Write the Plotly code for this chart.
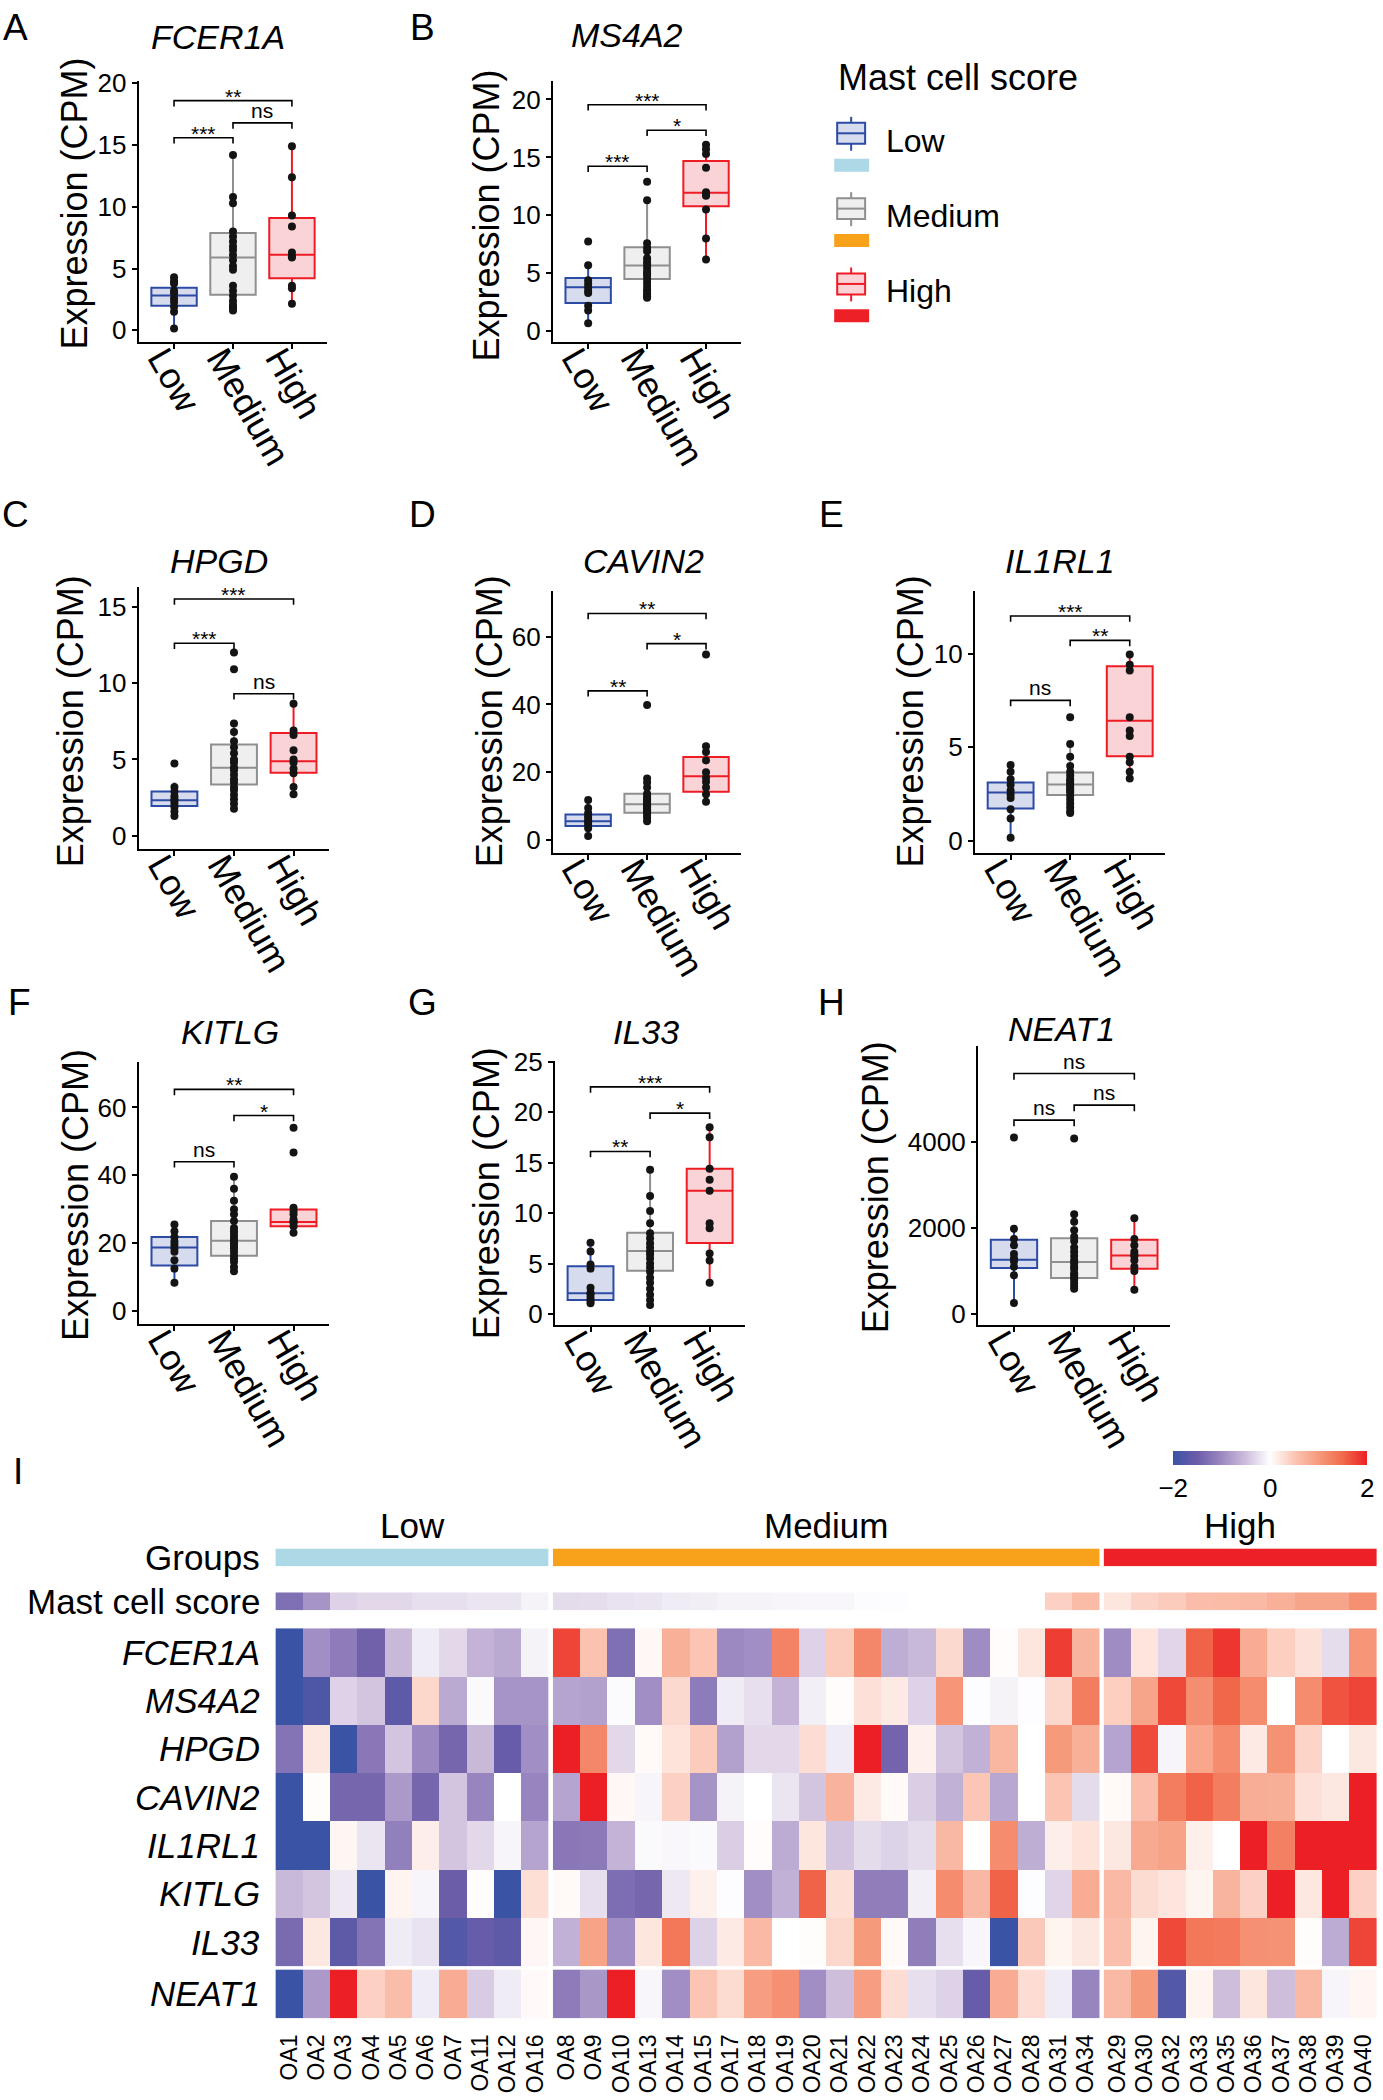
import plotly.graph_objects as go

W, H = 1383, 2100
FONT = "Liberation Sans, Arial, Helvetica, sans-serif"

# ---------------- data: box panels ----------------
GROUPS = ["Low", "Medium", "High"]

Q1 = {
    "FCER1A": [2.0, 2.88, 4.22], "MS4A2": [2.45, 4.5, 10.78], "HPGD": [1.96, 3.37, 4.13],
    "CAVIN2": [4.16, 8.1, 14.3], "IL1RL1": [1.73, 2.45, 4.52], "KITLG": [13.4, 16.3, 25.0],
    "IL33": [1.4, 4.28, 7.03], "NEAT1": [1070, 837, 1054]}
MEDIAN = {
    "FCER1A": [2.82, 5.9, 6.13], "MS4A2": [3.8, 5.68, 11.96], "HPGD": [2.33, 4.46, 4.89],
    "CAVIN2": [5.6, 10.6, 18.8], "IL1RL1": [2.59, 3.02, 6.41], "KITLG": [18.7, 20.7, 26.2],
    "IL33": [2.06, 6.24, 12.2], "NEAT1": [1264, 1209, 1364]}
Q3 = {
    "FCER1A": [3.44, 7.88, 9.09], "MS4A2": [4.6, 7.26, 14.7], "HPGD": [2.9, 5.98, 6.74],
    "CAVIN2": [7.6, 13.7, 24.5], "IL1RL1": [3.125, 3.66, 9.32], "KITLG": [21.8, 26.5, 29.9],
    "IL33": [4.74, 8.04, 14.4], "NEAT1": [1729, 1767, 1729]}
LOWER = {
    "FCER1A": [0.13, 1.6, 2.15], "MS4A2": [0.7, 2.94, 6.2], "HPGD": [1.3, 1.78, 2.72],
    "CAVIN2": [1.2, 5.6, 11.3], "IL1RL1": [0.18, 1.5, 3.34], "KITLG": [8.3, 11.7, 23.1],
    "IL33": [1.08, 0.9, 3.1], "NEAT1": [256, 590, 566]}
UPPER = {
    "FCER1A": [4.3, 14.2, 14.9], "MS4A2": [5.7, 11.3, 16.1], "HPGD": [3.5, 7.35, 8.65],
    "CAVIN2": [11.8, 18.2, 27.7], "IL1RL1": [4.05, 5.18, 9.95], "KITLG": [25.5, 39.6, 30.4],
    "IL33": [7.06, 14.3, 18.5], "NEAT1": [1985, 2326, 2233]}

PTS_LOW = {
    "FCER1A": [0.15, 1.5, 1.9, 2.3, 2.6, 3.0, 3.2, 3.8, 4.0, 4.3],
    "MS4A2": [7.75, 5.7, 4.4, 4.1, 3.8, 3.5, 3.3, 2.2, 1.8, 0.7],
    "HPGD": [4.74, 3.2, 2.9, 2.6, 2.4, 2.3, 2.1, 1.9, 1.6, 1.3],
    "CAVIN2": [11.8, 9.5, 8.0, 7.2, 6.5, 5.8, 5.2, 4.5, 3.5, 1.2],
    "IL1RL1": [4.05, 3.7, 3.3, 3.0, 2.7, 2.5, 2.3, 1.7, 1.2, 0.18],
    "KITLG": [25.5, 23.5, 21.8, 20.5, 19.5, 18.5, 17.5, 15.0, 12.5, 8.3],
    "IL33": [7.06, 6.2, 4.9, 4.5, 2.6, 2.1, 1.9, 1.6, 1.3, 1.08],
    "NEAT1": [4116, 1985, 1750, 1600, 1400, 1300, 1230, 1100, 900, 256]}
PTS_MED = {
    "FCER1A": [14.2, 10.8, 10.3, 8.0, 7.6, 7.2, 6.8, 6.5, 6.1, 5.7, 5.2, 4.9, 3.6, 3.2, 2.8, 2.4, 2.1, 1.9, 1.8, 1.6],
    "MS4A2": [12.9, 11.3, 7.6, 7.2, 6.9, 6.3, 6.0, 5.8, 5.5, 5.2, 5.0, 4.8, 4.5, 4.2, 3.9, 3.6, 3.4, 3.2, 3.0, 2.9],
    "HPGD": [12.0, 10.9, 7.35, 6.8, 6.2, 5.8, 5.4, 5.0, 4.8, 4.5, 4.3, 4.0, 3.7, 3.5, 3.2, 3.0, 2.7, 2.4, 2.1, 1.78],
    "CAVIN2": [39.8, 18.2, 17.0, 15.5, 13.7, 13.0, 12.3, 11.8, 11.3, 10.8, 10.4, 10.0, 9.6, 9.2, 8.8, 8.3, 7.9, 7.2, 6.5, 5.6],
    "IL1RL1": [6.6, 5.18, 4.5, 4.0, 3.7, 3.5, 3.3, 3.2, 3.1, 3.0, 2.9, 2.8, 2.7, 2.6, 2.4, 2.2, 2.0, 1.8, 1.6, 1.5],
    "KITLG": [39.6, 36.0, 32.5, 30.0, 28.5, 26.5, 24.5, 23.5, 22.5, 21.5, 20.8, 20.0, 19.2, 18.5, 17.5, 16.3, 15.5, 14.5, 13.0, 11.7],
    "IL33": [14.3, 11.7, 10.2, 9.0, 8.0, 7.5, 7.0, 6.6, 6.2, 5.9, 5.5, 5.0, 4.6, 4.2, 3.6, 3.1, 2.5, 1.9, 1.4, 0.9],
    "NEAT1": [4093, 2326, 2150, 1950, 1800, 1700, 1550, 1450, 1350, 1250, 1180, 1100, 1050, 950, 900, 850, 800, 720, 650, 590]}
PTS_HIGH = {
    "FCER1A": [14.9, 12.4, 9.3, 8.4, 6.3, 6.0, 5.9, 3.6, 3.4, 2.15],
    "MS4A2": [16.1, 15.7, 15.3, 14.1, 12.0, 11.8, 11.7, 10.5, 8.0, 6.2],
    "HPGD": [8.65, 6.9, 6.6, 5.6, 5.0, 4.8, 4.4, 4.1, 3.2, 2.72],
    "CAVIN2": [54.7, 27.7, 26.0, 23.5, 20.0, 18.5, 17.2, 15.5, 13.5, 11.3],
    "IL1RL1": [9.95, 9.4, 9.1, 6.6, 5.9, 5.6, 4.5, 4.2, 3.7, 3.34],
    "KITLG": [54.0, 46.7, 30.4, 29.5, 28.5, 27.0, 26.3, 26.0, 25.0, 23.1],
    "IL33": [18.5, 17.5, 14.4, 13.3, 12.2, 9.0, 8.5, 6.0, 5.3, 3.1],
    "NEAT1": [2233, 1750, 1600, 1450, 1380, 1350, 1250, 1100, 1000, 566]}

# significance brackets: pairs (Low-Medium, Medium-High, Low-High)
SIG_PAIRS = [(0, 1), (1, 2), (0, 2)]
SIG_Y = {
    "FCER1A": [15.6, 16.8, 18.6], "MS4A2": [14.24, 17.35, 19.54], "HPGD": [12.6, 9.3, 15.5],
    "CAVIN2": [44.0, 57.9, 66.8], "IL1RL1": [7.5, 10.7, 12.0], "KITLG": [44.0, 57.6, 65.3],
    "IL33": [16.1, 19.9, 22.5], "NEAT1": [4519, 4868, 5605]}
SIG_TEXT = {
    "FCER1A": ["***", "ns", "**"], "MS4A2": ["***", "*", "***"], "HPGD": ["***", "ns", "***"],
    "CAVIN2": ["**", "*", "**"], "IL1RL1": ["ns", "**", "***"], "KITLG": ["ns", "*", "**"],
    "IL33": ["**", "*", "***"], "NEAT1": ["ns", "ns", "ns"]}

# ---------------- data: heatmap ----------------
HEAT_GENES = ["FCER1A", "MS4A2", "HPGD", "CAVIN2", "IL1RL1", "KITLG", "IL33"]
HEAT_GENE_LAST = ["NEAT1"]
COLS_LOW = ["OA1", "OA2", "OA3", "OA4", "OA5", "OA6", "OA7", "OA11", "OA12", "OA16"]
COLS_MED = ["OA8", "OA9", "OA10", "OA13", "OA14", "OA15", "OA17", "OA18", "OA19", "OA20",
            "OA21", "OA22", "OA23", "OA24", "OA25", "OA26", "OA27", "OA28", "OA31", "OA34"]
COLS_HIGH = ["OA29", "OA30", "OA32", "OA33", "OA35", "OA36", "OA37", "OA38", "OA39", "OA40"]

Z_LOW = [
    [-2.2, -0.95, -1.15, -1.45, -0.55, -0.15, -0.3, -0.6, -0.7, -0.1],
    [-2.2, -1.8, -0.35, -0.45, -1.65, 0.35, -0.7, -0.05, -0.9, -0.9],
    [-1.25, 0.2, -2.0, -1.2, -0.45, -1.0, -1.4, -0.55, -1.55, -0.95],
    [-2.2, 0.02, -1.4, -1.4, -0.85, -1.4, -0.45, -1.05, 0.0, -1.05],
    [-2.2, -2.1, 0.08, -0.2, -1.1, 0.15, -0.45, -0.3, -0.08, -0.75],
    [-0.55, -0.45, -0.18, -2.1, 0.1, -0.08, -1.5, 0.02, -2.1, 0.28],
    [-1.35, 0.2, -1.65, -1.25, -0.15, -0.22, -1.75, -1.55, -1.65, 0.07],
    [-2.5, -0.85, 2.1, 0.4, 0.6, -0.15, 0.8, -0.4, -0.15, 0.04]]
Z_MED = [
    [1.75, 0.55, -1.3, 0.06, 0.75, 0.52, -1.0, -0.95, 1.25, -0.35, 0.45, 1.2, -0.65, -0.55, 0.33, -0.97, 0.03, 0.22, 1.8, 0.7],
    [-0.75, -0.78, -0.04, -0.95, 0.33, -1.15, -0.15, -0.25, -0.6, -0.12, 0.03, 0.27, 0.18, -0.35, 1.05, -0.02, -0.1, -0.02, 0.35, 1.3],
    [2.4, 1.2, -0.3, 0.05, 0.25, 0.45, -0.78, -0.3, -0.3, 0.3, -0.15, 2.4, -1.42, 0.12, -0.45, -0.62, 0.68, 0.0, 1.0, 0.75],
    [-0.75, 2.4, 0.06, -0.08, 0.4, -0.9, -0.1, 0.0, -0.2, -0.45, 0.72, 0.18, 0.05, -0.38, -0.62, 0.5, -0.72, 0.0, 0.52, -0.28],
    [-1.2, -1.18, -0.6, -0.05, -0.06, -0.05, -0.38, 0.03, -0.68, 0.22, -0.45, -0.28, -0.35, -0.27, 0.66, 0.0, 1.15, -0.65, 0.15, 0.25],
    [0.05, -0.25, -1.32, -1.4, -0.18, 0.13, -0.02, -0.95, -0.62, 1.55, 0.28, -1.12, -1.12, -0.12, 1.15, 0.66, 1.55, -0.02, -0.33, 0.8],
    [-0.62, 0.9, -0.95, 0.22, 1.35, -0.35, 0.18, 0.65, 0.0, 0.02, 0.35, 1.0, 0.05, -1.12, -0.25, -0.07, -2.0, 0.47, 0.1, 0.2],
    [-1.15, -0.87, 2.1, -0.07, -0.95, 0.52, 0.32, 0.95, 1.1, -0.95, -0.5, 0.95, 0.3, -0.25, -0.35, -1.55, 0.8, 0.3, -0.15, -1.05]]
Z_HIGH = [
    [-0.97, 0.23, -0.32, 1.55, 1.85, 0.8, 0.42, 0.27, -0.27, 1.05],
    [0.42, 0.88, 1.72, 1.12, 1.52, 1.15, 0.0, 1.15, 1.65, 1.75],
    [-0.75, 1.7, -0.08, 0.85, 1.15, 0.18, 1.08, 0.37, 0.0, 0.2],
    [0.05, 0.58, 1.3, 1.55, 1.3, 0.77, 0.76, 0.27, 0.2, 2.4],
    [0.2, 0.82, 0.9, 0.14, 0.0, 2.0, 1.27, 2.0, 2.0, 2.4],
    [0.65, 0.32, 0.23, 0.1, 0.7, 0.4, 2.4, 0.2, 2.4, 0.4],
    [0.58, 0.1, 1.72, 1.35, 1.33, 1.1, 1.08, 0.02, -0.68, 1.75],
    [0.65, 1.0, -1.75, 0.1, -0.5, 0.22, -0.5, 0.65, -0.08, 0.08]]

SCORE_LOW = [-1.3, -0.9, -0.35, -0.3, -0.3, -0.25, -0.25, -0.2, -0.2, -0.1]
SCORE_MED = [-0.28, -0.27, -0.22, -0.2, -0.15, -0.13, -0.1, -0.1, -0.08, -0.07,
             -0.07, -0.03, -0.02, 0.0, 0.0, 0.0, 0.0, 0.0, 0.4, 0.62]
SCORE_HIGH = [0.22, 0.38, 0.45, 0.6, 0.62, 0.65, 0.75, 0.88, 0.88, 1.1]

CBAR_TICKS = [-2, 0, 2]
CBAR_TEXT = ["\u22122", "0", "2"]

# ---------------- styles ----------------
BOX_LINE = {"Low": "#2C4BA5", "Medium": "#8F8F8F", "High": "#EE1C25"}
BOX_FILL = {"Low": "#D6DBEE", "Medium": "#EFEFEF", "High": "#F9D3D6"}
GROUP_BAR = {"Low": "#ADD8E6", "Medium": "#F8A21C", "High": "#EE2027"}
HEAT_CS = [[0.0, "#3A53A4"], [0.125, "#6C5DA9"], [0.25, "#9C89C1"], [0.375, "#CEBEDC"],
           [0.5, "#FFFFFF"], [0.625, "#FBC6B5"], [0.75, "#F69A7C"], [0.875, "#F16A4C"],
           [1.0, "#EC2024"]]

PANELS = [
    dict(letter="A", gene="FCER1A", box=(139, 328, 80, 342), yr=(-0.97, 20.2), ticks=[0, 5, 10, 15, 20], lxy=(16, 20), txy=(218, 36), yxy=(75, 203)),
    dict(letter="B", gene="MS4A2", box=(554, 743, 80, 342), yr=(-0.95, 21.6), ticks=[0, 5, 10, 15, 20], lxy=(423, 20), txy=(628, 34), yxy=(488, 215)),
    dict(letter="C", gene="HPGD", box=(139, 330, 587, 850), yr=(-0.86, 16.3), ticks=[0, 5, 10, 15], lxy=(16, 515), txy=(219, 561), yxy=(71, 722)),
    dict(letter="D", gene="CAVIN2", box=(554, 743, 591, 854), yr=(-3.8, 73.5), ticks=[0, 20, 40, 60], lxy=(423, 515), txy=(645, 561), yxy=(490, 722)),
    dict(letter="E", gene="IL1RL1", box=(977, 1168, 591, 854), yr=(-0.64, 13.35), ticks=[0, 5, 10], lxy=(833, 515), txy=(1062, 561), yxy=(912, 722)),
    dict(letter="F", gene="KITLG", box=(139, 330, 1063, 1326), yr=(-3.8, 73.5), ticks=[0, 20, 40, 60], lxy=(20, 1004), txy=(230, 1033), yxy=(75, 1197)),
    dict(letter="G", gene="IL33", box=(556, 747, 1062, 1327), yr=(-1.08, 25.1), ticks=[0, 5, 10, 15, 20, 25], lxy=(423, 1004), txy=(647, 1033), yxy=(487, 1195)),
    dict(letter="H", gene="NEAT1", box=(980, 1173, 1047, 1327), yr=(-256, 6256), ticks=[0, 2000, 4000], lxy=(833, 1004), txy=(1064, 1030), yxy=(877, 1189)),
]

fig = go.Figure()
layout_axes = {}
annotations = []
shapes = []
n_axes = [0]


def Y(y):
    # vertical placement calibration (reference pixel -> figure pixel)
    return y / 0.9938 - 13


def py(y):
    return 1 - Y(y) / H


def new_axes(left, right, top, bottom):
    n_axes[0] += 1
    n = n_axes[0]
    sfx = "" if n == 1 else str(n)
    layout_axes["xaxis" + sfx] = dict(domain=[left / W, right / W], anchor="y" + sfx)
    layout_axes["yaxis" + sfx] = dict(domain=[py(bottom), py(top)], anchor="x" + sfx)
    return "x" + sfx, "y" + sfx, "xaxis" + sfx, "yaxis" + sfx


def text_ann(x, y, text, size, xanchor="center", yanchor="middle", angle=0, min_fig_y=None):
    yp = py(y)
    if min_fig_y is not None:
        yp = min(yp, 1 - min_fig_y / H)
    annotations.append(dict(x=x / W, y=yp, xref="paper", yref="paper", text=text, showarrow=False,
                            xanchor=xanchor, yanchor=yanchor, textangle=angle,
                            font=dict(size=size, color="black", family=FONT)))


# ---------------- box panels ----------------
for p in PANELS:
    gene = p["gene"]
    left, right, top, bottom = p["box"]
    xr, yr, xn, yn = new_axes(left, right, top, bottom)
    pts = [PTS_LOW[gene], PTS_MED[gene], PTS_HIGH[gene]]
    for gi, g in enumerate(GROUPS):
        fig.add_trace(go.Box(
            x=[g], q1=[Q1[gene][gi]], median=[MEDIAN[gene][gi]], q3=[Q3[gene][gi]],
            lowerfence=[LOWER[gene][gi]], upperfence=[UPPER[gene][gi]],
            orientation="v", width=0.77, whiskerwidth=0, boxpoints=False,
            line=dict(color=BOX_LINE[g], width=2), fillcolor=BOX_FILL[g],
            xaxis=xr, yaxis=yr, showlegend=False, hoverinfo="skip"))
    for gi, g in enumerate(GROUPS):
        fig.add_trace(go.Scatter(
            x=[g] * len(pts[gi]), y=pts[gi], mode="markers",
            marker=dict(color="#141414", size=8, line=dict(width=0)),
            xaxis=xr, yaxis=yr, showlegend=False, hoverinfo="skip"))
    span = p["yr"][1] - p["yr"][0]
    for k, (a, b) in enumerate(SIG_PAIRS):
        ytop = SIG_Y[gene][k]
        tip = ytop - 0.022 * span
        fig.add_trace(go.Scatter(
            x=[GROUPS[a], GROUPS[a], GROUPS[b], GROUPS[b]], y=[tip, ytop, ytop, tip],
            mode="lines", line=dict(color="black", width=1.6),
            xaxis=xr, yaxis=yr, showlegend=False, hoverinfo="skip"))
        lab = SIG_TEXT[gene][k]
        annotations.append(dict(
            x=(a + b) / 2, y=ytop, xref=xr, yref=yr, text=lab, showarrow=False,
            xanchor="center", yanchor="bottom", yshift=(-9 if "*" in lab else -1),
            font=dict(size=21, color="black", family=FONT)))
    layout_axes[xn].update(dict(
        type="category", categoryorder="array", categoryarray=GROUPS, range=[-0.6, 2.6],
        showline=True, linewidth=2, linecolor="black", ticks="outside", ticklen=5,
        tickwidth=2, tickcolor="black", tickangle=60, showgrid=False, zeroline=False,
        ticklabelstandoff=-26, ticklabelshift=-12,
        tickfont=dict(size=36, color="black", family=FONT)))
    layout_axes[yn].update(dict(
        range=list(p["yr"]), tickvals=p["ticks"], showline=True, linewidth=2,
        linecolor="black", ticks="outside", ticklen=5, tickwidth=2, tickcolor="black",
        showgrid=False, zeroline=False, tickfont=dict(size=26, color="black", family=FONT)))
    text_ann(*p["lxy"], p["letter"], 37, min_fig_y=14)
    text_ann(*p["txy"], "<i>%s</i>" % gene, 34)
    text_ann(*p["yxy"], "Expression (CPM)", 36, angle=-90)

# ---------------- legend ----------------
text_ann(838, 77, "Mast cell score", 36, xanchor="left")
for k, g in enumerate(GROUPS):
    y0 = 116 + 75.5 * k
    xl, xrr, xc = 839 / W, 867 / W, 853 / W
    shapes.append(dict(type="line", xref="paper", yref="paper", x0=xc, x1=xc,
                       y0=py(y0), y1=py(y0 + 34), line=dict(color=BOX_LINE[g], width=2)))
    shapes.append(dict(type="rect", xref="paper", yref="paper", x0=xl, x1=xrr,
                       y0=py(y0 + 6), y1=py(y0 + 27),
                       line=dict(color=BOX_LINE[g], width=2), fillcolor=BOX_FILL[g]))
    shapes.append(dict(type="line", xref="paper", yref="paper", x0=xl, x1=xrr,
                       y0=py(y0 + 16.5), y1=py(y0 + 16.5),
                       line=dict(color=BOX_LINE[g], width=2)))
    shapes.append(dict(type="rect", xref="paper", yref="paper", x0=836 / W, x1=871 / W,
                       y0=py(y0 + 42), y1=py(y0 + 55),
                       line=dict(width=0), fillcolor=GROUP_BAR[g]))
    text_ann(886, y0 + 24, g, 32, xanchor="left")

# ---------------- heatmap ----------------
COLS = [COLS_LOW, COLS_MED, COLS_HIGH]
ZS = [Z_LOW, Z_MED, Z_HIGH]
SCORES = [SCORE_LOW, SCORE_MED, SCORE_HIGH]
COL_PX = [(276, 550), (554, 1102), (1106, 1380)]
BAR_GROUP = (1551, 1569)
BAR_SCORE = (1595, 1613)
BLOCK_MAIN = (1631, 1970)
BLOCK_LAST = (1973, 2022)

hidden = dict(showline=False, showgrid=False, zeroline=False, ticks="", showticklabels=False)

main_y_ref = None
last_y_ref = None
for ci, g in enumerate(GROUPS):
    x0p, x1p = COL_PX[ci]
    cols = COLS[ci]
    # group bar
    xr, yr, xn, yn = new_axes(x0p, x1p, BAR_GROUP[0], BAR_GROUP[1])
    fig.add_trace(go.Heatmap(z=[[ci] * len(cols)], x=cols, y=["Groups"],
                             colorscale=[[0, GROUP_BAR[g]], [1, GROUP_BAR[g]]], showscale=False,
                             xaxis=xr, yaxis=yr, hoverinfo="skip"))
    layout_axes[xn].update(hidden)
    layout_axes[yn].update(hidden)
    # score bar
    xr, yr, xn, yn = new_axes(x0p, x1p, BAR_SCORE[0], BAR_SCORE[1])
    fig.add_trace(go.Heatmap(z=[SCORES[ci]], x=cols, y=["Mast cell score"],
                             colorscale=HEAT_CS, zmin=-2, zmax=2, showscale=False,
                             xaxis=xr, yaxis=yr, hoverinfo="skip"))
    layout_axes[xn].update(hidden)
    layout_axes[yn].update(hidden)
    # main block
    xr, yr, xn, yn = new_axes(x0p, x1p, BLOCK_MAIN[0], BLOCK_MAIN[1])
    fig.add_trace(go.Heatmap(z=ZS[ci][:7], x=cols, y=HEAT_GENES,
                             colorscale=HEAT_CS, zmin=-2, zmax=2, showscale=False,
                             xaxis=xr, yaxis=yr, hoverinfo="skip"))
    layout_axes[xn].update(hidden)
    layout_axes[yn].update(hidden)
    layout_axes[yn].update(autorange="reversed")
    if ci == 0:
        main_y_ref = yr
    # last block (NEAT1)
    xr, yr, xn, yn = new_axes(x0p, x1p, BLOCK_LAST[0], BLOCK_LAST[1])
    show_cb = (ci == 2)
    fig.add_trace(go.Heatmap(
        z=ZS[ci][7:], x=cols, y=HEAT_GENE_LAST, colorscale=HEAT_CS, zmin=-2, zmax=2,
        showscale=show_cb, xaxis=xr, yaxis=yr, hoverinfo="skip",
        colorbar=dict(orientation="h", x=1273 / W, xanchor="center", y=py(1453),
                      yanchor="top", len=194, lenmode="pixels", thickness=14,
                      thicknessmode="pixels", tickvals=CBAR_TICKS, ticktext=CBAR_TEXT,
                      ticks="", outlinewidth=0, xpad=0, ypad=0,
                      tickfont=dict(size=26, color="black", family=FONT))))
    layout_axes[xn].update(dict(showline=False, showgrid=False, zeroline=False,
                                tickmode="array", tickvals=cols, ticktext=cols,
                                ticks="outside", ticklen=6, tickcolor="rgba(0,0,0,0)",
                                tickangle=-90, tickfont=dict(size=23, color="black", family=FONT)))
    layout_axes[yn].update(hidden)
    if ci == 0:
        last_y_ref = yr
    # group label
    text_ann((x0p + x1p) / 2, 1528, g, 35)

text_ann(263, 1560, "Groups", 35, xanchor="right")
text_ann(263, 1604, "Mast cell score", 35, xanchor="right")
for gi, gname in enumerate(HEAT_GENES):
    annotations.append(dict(x=263 / W, y=gname, xref="paper", yref=main_y_ref,
                            text="<i>%s</i>" % gname, showarrow=False, xanchor="right",
                            yanchor="middle", font=dict(size=35, color="black", family=FONT)))
for gname in HEAT_GENE_LAST:
    annotations.append(dict(x=263 / W, y=gname, xref="paper", yref=last_y_ref,
                            text="<i>%s</i>" % gname, showarrow=False, xanchor="right",
                            yanchor="middle", font=dict(size=35, color="black", family=FONT)))
text_ann(18, 1474, "I", 37)

fig.update_layout(
    width=W, height=H, autosize=False, margin=dict(l=0, r=0, t=0, b=0),
    paper_bgcolor="white", plot_bgcolor="white", boxmode="overlay",
    font=dict(family=FONT, color="black"), showlegend=False,
    annotations=annotations, shapes=shapes, **layout_axes)

fig.write_html("out.html", config={"displayModeBar": False},
               post_script="document.body.style.margin='0px';document.body.style.overflow='hidden';")
